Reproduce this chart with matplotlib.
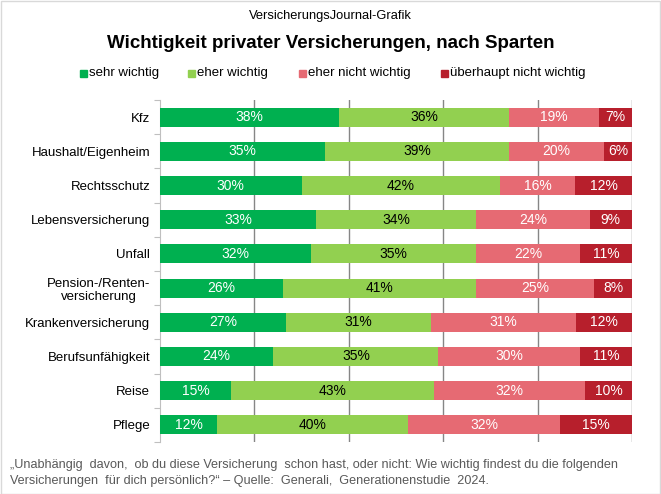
import numpy as np
import matplotlib.pyplot as plt
from matplotlib.patches import Rectangle

plt.rcParams['font.family'] = ['Liberation Sans', 'DejaVu Sans']

categories = ['Kfz', 'Haushalt/Eigenheim', 'Rechtsschutz', 'Lebensversicherung', 'Unfall',
              'Pension-/Renten-\nversicherung', 'Krankenversicherung', 'Berufsunfähigkeit',
              'Reise', 'Pflege']
sehr = [38, 35, 30, 33, 32, 26, 27, 24, 15, 12]
eher = [36, 39, 42, 34, 35, 41, 31, 35, 43, 40]
eher_nicht = [19, 20, 16, 24, 22, 25, 31, 30, 32, 32]
gar_nicht = [7, 6, 12, 9, 11, 8, 12, 11, 10, 15]

series = [sehr, eher, eher_nicht, gar_nicht]
names = ['sehr wichtig', 'eher wichtig', 'eher nicht wichtig', 'überhaupt nicht wichtig']
colors = ['#00B050', '#92D050', '#E66A73', '#B71F2C']
txtcol = ['white', 'black', 'white', 'white']

vals = np.array(series, dtype=float)
share = vals / vals.sum(axis=0) * 100  # 100% stacked

fig = plt.figure(figsize=(6.61, 4.94), dpi=100)
ax = fig.add_axes([160/661, 1-442/494, 472/661, 342/494])

y = np.arange(len(categories))
left = np.zeros(len(categories))
for k in range(4):
    ax.barh(y, share[k], left=left, height=0.56, color=colors[k], zorder=3)
    for i in range(len(categories)):
        ax.text(left[i] + share[k][i]/2, y[i], f'{series[k][i]}%', ha='center', va='center',
                color=txtcol[k], fontsize=10, zorder=4)
    left += share[k]

ax.set_xlim(0, 100)
ax.set_ylim(len(categories) - 0.5, -0.5)
ax.set_xticks([20, 40, 60, 80, 100])
ax.set_xticklabels([])
ax.tick_params(axis='x', length=0)
ax.grid(axis='x', color='#868686', linewidth=1, zorder=0)
ax.set_yticks(np.arange(-0.5, len(categories), 1), minor=False)
ax.set_yticklabels([])
ax.tick_params(axis='y', length=4, color='#BFBFBF', direction='out')
ax.set_yticks(y, minor=True)
ax.set_yticklabels(categories, minor=True, fontsize=9.5)
ax.tick_params(axis='y', which='minor', length=0, pad=7)
for lab in ax.get_yticklabels(minor=True):
    lab.set_multialignment('center')
for s in ['top', 'right', 'bottom']:
    ax.spines[s].set_visible(False)
ax.spines['left'].set_color('#BFBFBF')

fig.text(0.5, 1-16/494, 'VersicherungsJournal-Grafik', ha='center', va='center', fontsize=9.3)
fig.text(0.5, 1-44/494, 'Wichtigkeit privater Versicherungen, nach Sparten', ha='center',
         va='center', fontsize=13.5, fontweight='bold')

# legend
leg_x = [83, 191, 302, 444]
for k in range(4):
    fig.patches.append(Rectangle(((leg_x[k]-3)/661, 1-77/494), 7/661, 7/494,
                                 transform=fig.transFigure, color=colors[k]))
    fig.text((leg_x[k]+6)/661, 1-73/494, names[k], ha='left', va='center', fontsize=9.5)

fig.text(10/661, 1-465/494, '„Unabhängig  davon,  ob du diese Versicherung  schon hast, oder nicht: Wie wichtig findest du die folgenden',
         ha='left', va='center', fontsize=9.1, color='#595959')
fig.text(10/661, 1-481/494, 'Versicherungen  für dich persönlich?“ – Quelle:  Generali,  Generationenstudie  2024.',
         ha='left', va='center', fontsize=9.1, color='#595959')

fig.patches.append(Rectangle((0.5/661, 0.5/494), 659/661, 492/494, transform=fig.transFigure,
                             fill=False, edgecolor='#D9D9D9', linewidth=1))

fig.savefig('out.png', dpi=100)
